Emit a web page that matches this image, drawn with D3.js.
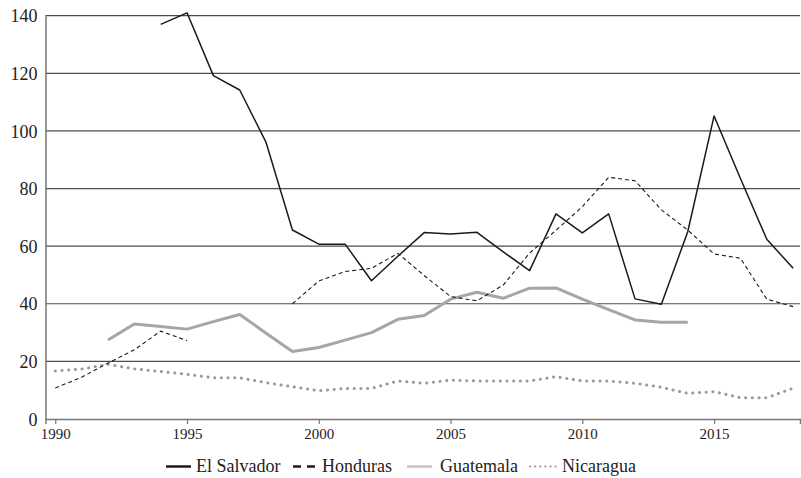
<!DOCTYPE html>
<html>
<head>
<meta charset="utf-8">
<script src="https://cdn.jsdelivr.net/npm/d3@7"></script>
<style>
  body { margin: 0; background: #fff; }
</style>
</head>
<body>
<svg id="chart" width="801" height="478"></svg>
<script>
// Homicide rates per 100k
var years = d3.range(1990, 2019);
var elSalvador = [null, null, null, null, 137, 141, 119.2, 114.2, 96, 65.6, 60.7, 60.7, 48, 56.5, 64.7, 64.2, 64.8, 58, 51.5, 71.2, 64.6, 71.2, 41.7, 39.8, 65, 105.2, 83.5, 62.4, 52.3];
var honduras = [10.8, 14.5, 19.4, 24, 30.5, 27.2, null, null, null, 40, 47.9, 51.2, 52.3, 57.5, 49.8, 42.5, 41, 46.5, 57.6, 65.5, 73.7, 83.9, 82.7, 72.6, 65.6, 57.3, 55.8, 41.6, 39];
var guatemala = [null, null, 27.4, 33, 32.1, 31.2, 33.8, 36.3, 29.8, 23.4, 24.8, 27.4, 30, 34.6, 35.9, 41.6, 44, 41.9, 45.4, 45.5, 41.6, 38, 34.4, 33.6, 33.6, null, null, null, null];
var nicaragua = [16.7, 17.3, 19, 17.4, 16.5, 15.5, 14.3, 14.3, 12.6, 11.2, 9.8, 10.6, 10.6, 13.2, 12.4, 13.5, 13.2, 13.2, 13.2, 14.7, 13.2, 13.2, 12.4, 11, 8.9, 9.5, 7.4, 7.4, 10.7];
var yTicks = [0, 20, 40, 60, 80, 100, 120, 140];
var xTicks = [1990, 1995, 2000, 2005, 2010, 2015];

var series = [
  {name: "El Salvador", values: elSalvador, color: "#1a1a1a", width: 1.5, dash: null, cap: "butt"},
  {name: "Honduras", values: honduras, color: "#1a1a1a", width: 1.1, dash: "4,3", cap: "butt"},
  {name: "Guatemala", values: guatemala, color: "#a6a6a6", width: 3, dash: null, cap: "butt"},
  {name: "Nicaragua", values: nicaragua, color: "#999", width: 3, dash: "0.1,6.6", cap: "round"}
];

var serif = "'Liberation Serif', 'Times New Roman', 'DejaVu Serif'";
var svg = d3.select("#chart");
var plotLeft = 45.5, plotRight = 800, plotTop = 15.7, plotBottom = 419;

var x = d3.scaleLinear().domain([1989.63, 2018.26]).range([plotLeft, plotRight]);
var y = d3.scaleLinear().domain([0, 140]).range([plotBottom, plotTop]);

// gridlines
svg.append("g")
  .selectAll("line")
  .data(yTicks.slice(1))
  .enter().append("line")
    .attr("x1", plotLeft).attr("x2", plotRight)
    .attr("y1", function(d) { return y(d); })
    .attr("y2", function(d) { return y(d); })
    .attr("stroke", "#4d4d4d")
    .attr("stroke-width", 1.2);

// y axis
var yAxis = svg.append("g")
    .attr("transform", "translate(" + plotLeft + ",0)")
    .call(d3.axisLeft(y).tickValues(yTicks).tickSize(0).tickPadding(8));
yAxis.attr("font-family", serif);
yAxis.select(".domain").attr("stroke", "#777").attr("stroke-width", 1.5);
yAxis.selectAll("text")
    .style("font-family", serif)
    .style("font-size", "18px")
    .attr("fill", "#222")
    .attr("dy", "0.34em");

// x axis
var xAxis = svg.append("g")
    .attr("transform", "translate(0," + plotBottom + ")")
    .call(d3.axisBottom(x).tickValues(xTicks).tickFormat(d3.format("d")).tickSizeOuter(0).tickSize(5).tickPadding(4));
xAxis.attr("font-family", serif);
xAxis.select(".domain").attr("stroke", "#777").attr("stroke-width", 1.5);
xAxis.selectAll(".tick line").attr("stroke", "#777").attr("stroke-width", 1.2);
xAxis.selectAll("text")
    .style("font-family", serif)
    .style("font-size", "15px")
    .attr("fill", "#222");

var line = d3.line()
    .defined(function(d) { return d.v != null; })
    .x(function(d) { return x(d.year); })
    .y(function(d) { return y(d.v); });

svg.append("g")
  .selectAll("path")
  .data(series.slice().reverse())
  .enter().append("path")
    .attr("d", function(s) { return line(years.map(function(yr, i) { return {year: yr, v: s.values[i]}; })); })
    .attr("fill", "none")
    .attr("stroke", function(s) { return s.color; })
    .attr("stroke-width", function(s) { return s.width; })
    .attr("stroke-dasharray", function(s) { return s.dash; })
    .attr("stroke-linecap", function(s) { return s.cap; })
    .attr("stroke-linejoin", "round");

// legend
var legendPos = [166, 293, 407, 528];
var legendSw = [
  {w: 25, width: 2.5, dash: null, cap: "butt"},
  {w: 24, width: 2.5, dash: "8,6", cap: "butt"},
  {w: 25, width: 2.5, dash: null, cap: "butt"},
  {w: 29, width: 2.2, dash: "0.1,5", cap: "round"}
];
var legend = svg.append("g").attr("transform", "translate(0,466.5)");
var item = legend.selectAll("g")
  .data(series)
  .enter().append("g")
    .attr("transform", function(d, i) { return "translate(" + legendPos[i] + ",0)"; });
item.append("line")
    .attr("x1", function(d, i) { return legendSw[i].cap === "round" ? 2 : 0; })
    .attr("x2", function(d, i) { return legendSw[i].w; })
    .attr("stroke", function(d) { return d.color === "#a6a6a6" ? "#c4c4c4" : d.color; })
    .attr("stroke-width", function(d, i) { return legendSw[i].width; })
    .attr("stroke-dasharray", function(d, i) { return legendSw[i].dash; })
    .attr("stroke-linecap", function(d, i) { return legendSw[i].cap; });
item.append("text")
    .attr("x", function(d, i) { return legendSw[i].w + (i === 2 ? 8 : 5); })
    .attr("y", 5.5)
    .attr("fill", "#222")
    .style("font-family", serif)
    .style("font-size", "18px")
    .text(function(d) { return d.name; });
</script>
</body>
</html>
